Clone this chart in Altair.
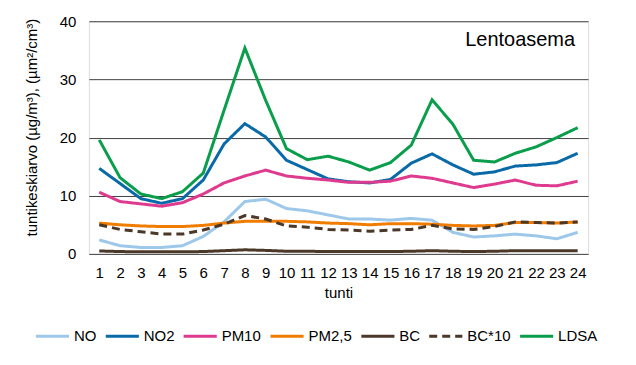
import altair as alt
import pandas as pd

hours = list(range(1, 25))
NO = [2.4, 1.4, 1.1, 1.1, 1.4, 3.0, 5.5, 9.0, 9.4, 7.8, 7.4, 6.7, 6.0, 6.0, 5.8, 6.1, 5.8, 3.7, 2.9, 3.1, 3.4, 3.1, 2.6, 3.7]
NO2 = [14.7, 12.1, 9.5, 8.7, 9.5, 12.7, 18.9, 22.4, 20.1, 16.1, 14.5, 12.9, 12.4, 12.2, 12.8, 15.6, 17.2, 15.3, 13.7, 14.1, 15.1, 15.3, 15.7, 17.3]
PM10 = [10.6, 9.0, 8.6, 8.2, 8.8, 10.3, 12.2, 13.4, 14.4, 13.4, 13.0, 12.7, 12.3, 12.3, 12.5, 13.4, 13.0, 12.2, 11.4, 12.0, 12.7, 11.8, 11.7, 12.5]
PM25 = [5.3, 5.0, 4.8, 4.7, 4.7, 4.9, 5.3, 5.6, 5.6, 5.6, 5.5, 5.3, 5.2, 5.0, 5.2, 5.2, 5.1, 4.9, 4.8, 4.9, 5.4, 5.4, 5.3, 5.5]
BC = [0.5, 0.4, 0.35, 0.35, 0.35, 0.4, 0.55, 0.7, 0.6, 0.45, 0.45, 0.4, 0.4, 0.4, 0.4, 0.45, 0.55, 0.45, 0.4, 0.45, 0.55, 0.55, 0.55, 0.55]
BC10 = [5.0, 4.2, 3.8, 3.4, 3.4, 4.1, 5.1, 6.6, 6.0, 4.8, 4.6, 4.2, 4.1, 3.9, 4.1, 4.2, 4.9, 4.3, 4.2, 4.7, 5.5, 5.4, 5.3, 5.5]
LDSA = [19.6, 13.1, 10.3, 9.5, 10.7, 13.9, 24.7, 35.4, 26.4, 18.1, 16.2, 16.8, 15.8, 14.4, 15.7, 18.7, 26.5, 22.3, 16.1, 15.8, 17.3, 18.4, 20.0, 21.7]

series_names = ["NO", "NO2", "PM10", "PM2,5", "BC", "BC*10", "LDSA"]
series_values = [NO, NO2, PM10, PM25, BC, BC10, LDSA]
colors = ["#9DC8EA", "#0A6AA8", "#DE3A8E", "#F07D00", "#4B3828", "#4B3828", "#0A9E4C"]
dashes = [[1, 0], [1, 0], [1, 0], [1, 0], [1, 0], [8, 5], [1, 0]]

station = "Lentoasema"
y_title = "tuntikeskiarvo (µg/m³), (µm²/cm³)"
x_title = "tunti"

rows = []
for name, vals in zip(series_names, series_values):
    for h, v in zip(hours, vals):
        rows.append({"tunti": h, "arvo": v, "sarja": name})
df = pd.DataFrame(rows)

font = "Liberation Sans"

legend_kw = dict(title=None, orient="none", direction="horizontal",
                 legendX=-55, legendY=297, gridAlign="none",
                 symbolType="stroke", symbolSize=1100, symbolStrokeWidth=3,
                 labelFontSize=15, labelFont=font, labelColor="black",
                 labelOffset=3, columnPadding=2)

lines = alt.Chart(df).mark_line(strokeWidth=3).encode(
    x=alt.X("tunti:Q",
            scale=alt.Scale(domain=[0.5, 24.5], nice=False, zero=False),
            axis=alt.Axis(values=hours, title=x_title, grid=False, ticks=False, tickSize=0,
                          labelPadding=12, titlePadding=5, domain=False,
                          labelFontSize=15, titleFontSize=15, titleFontWeight="normal",
                          labelColor="black", titleColor="black", labelFont=font, titleFont=font,
                          labelFlush=False)),
    y=alt.Y("arvo:Q",
            scale=alt.Scale(domain=[0, 40], nice=False),
            axis=alt.Axis(values=[0, 10, 20, 30, 40], title=y_title, grid=True,
                          gridColor="#404040", gridWidth=1, ticks=False, tickSize=0,
                          labelPadding=13, titlePadding=20, domain=False, titleY=106,
                          labelFontSize=15, titleFontSize=15, titleFontWeight="normal",
                          labelColor="black", titleColor="black", labelFont=font, titleFont=font)),
    color=alt.Color("sarja:N",
                    scale=alt.Scale(domain=series_names, range=colors),
                    legend=alt.Legend(**legend_kw)),
    strokeDash=alt.StrokeDash("sarja:N",
                              scale=alt.Scale(domain=series_names, range=dashes),
                              legend=alt.Legend(**legend_kw)),
    order=alt.Order("sarja:N"),
)

label = alt.Chart(pd.DataFrame({"t": [station]})).mark_text(
    align="right", baseline="alphabetic", fontSize=20, font=font, color="black"
).encode(x=alt.value(487), y=alt.value(25), text="t:N")

chart = alt.layer(lines, label).properties(
    width=500, height=233,
    autosize=alt.AutoSizeParams(type="none"),
    padding={"left": 81, "top": 13, "right": 40, "bottom": 100},
).configure_view(stroke="black", strokeWidth=1).configure(background="white")

chart.save("out.html", embed_options={"renderer": "svg", "actions": False})
